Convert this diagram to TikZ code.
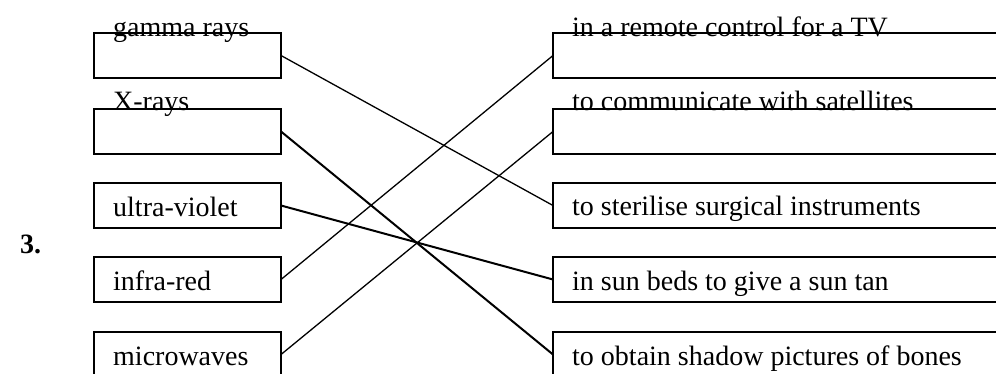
\documentclass[tikz,border=0pt]{standalone}
\usepackage{fontspec}
\setmainfont{Liberation Serif}
\begin{document}
\begin{tikzpicture}[x=1pt,y=1pt,
  box/.style={draw, line width=2pt, minimum height=45pt, inner sep=0pt, outer sep=0pt},
  lbox/.style={box, minimum width=187pt},
  rbox/.style={box, minimum width=457pt},
  lbl/.style={anchor=base west, inner sep=0pt, font=\fontsize{28}{34}\selectfont},
  link/.style={line width=1.3pt},
  heavylink/.style={line width=2pt}]
\clip (0,0) rectangle (996,373);
% left boxes
\node[lbox] (gamma) at (187.5,317.5) {};
\node[lbox] (xray)  at (187.5,241.5) {};
\node[lbox] (uv)    at (187.5,167.5) {};
\node[lbox] (ir)    at (187.5,93.5) {};
\node[lbox] (mw)    at (187.5,18.5) {};
% right boxes
\node[rbox] (tv)    at (781.5,317.5) {};
\node[rbox] (sat)   at (781.5,241.5) {};
\node[rbox] (ster)  at (781.5,167.5) {};
\node[rbox] (sun)   at (781.5,93.5) {};
\node[rbox] (bones) at (781.5,18.5) {};
% labels
\node[lbl] (tgamma) at (113,336) {gamma rays};
\node[lbl] (txray)  at (113,262) {X-rays};
\node[lbl] (tuv)    at (113,157) {ultra-violet};
\node[lbl] (tir)    at (113,83) {infra-red};
\node[lbl] (tmw)    at (113,8) {microwaves};
\node[lbl] (ttv)    at (572,336) {in a remote control for a TV};
\node[lbl] (tsat)   at (572,262) {to communicate with satellites};
\node[lbl] (tster)  at (572,158) {to sterilise surgical instruments};
\node[lbl] (tsun)   at (572,83) {in sun beds to give a sun tan};
\node[lbl] (tbones) at (572,8) {to obtain shadow pictures of bones};
\node[lbl, font=\fontsize{28}{34}\selectfont\bfseries] (num) at (20,120) {3.};
% connectors
\draw[link] (gamma.east) -- (ster.west);
\draw[heavylink] (xray.east) -- (bones.west);
\draw[heavylink] (uv.east) -- (sun.west);
\draw[link] (ir.east) -- (tv.west);
\draw[link] (mw.east) -- (sat.west);
\end{tikzpicture}
\end{document}
